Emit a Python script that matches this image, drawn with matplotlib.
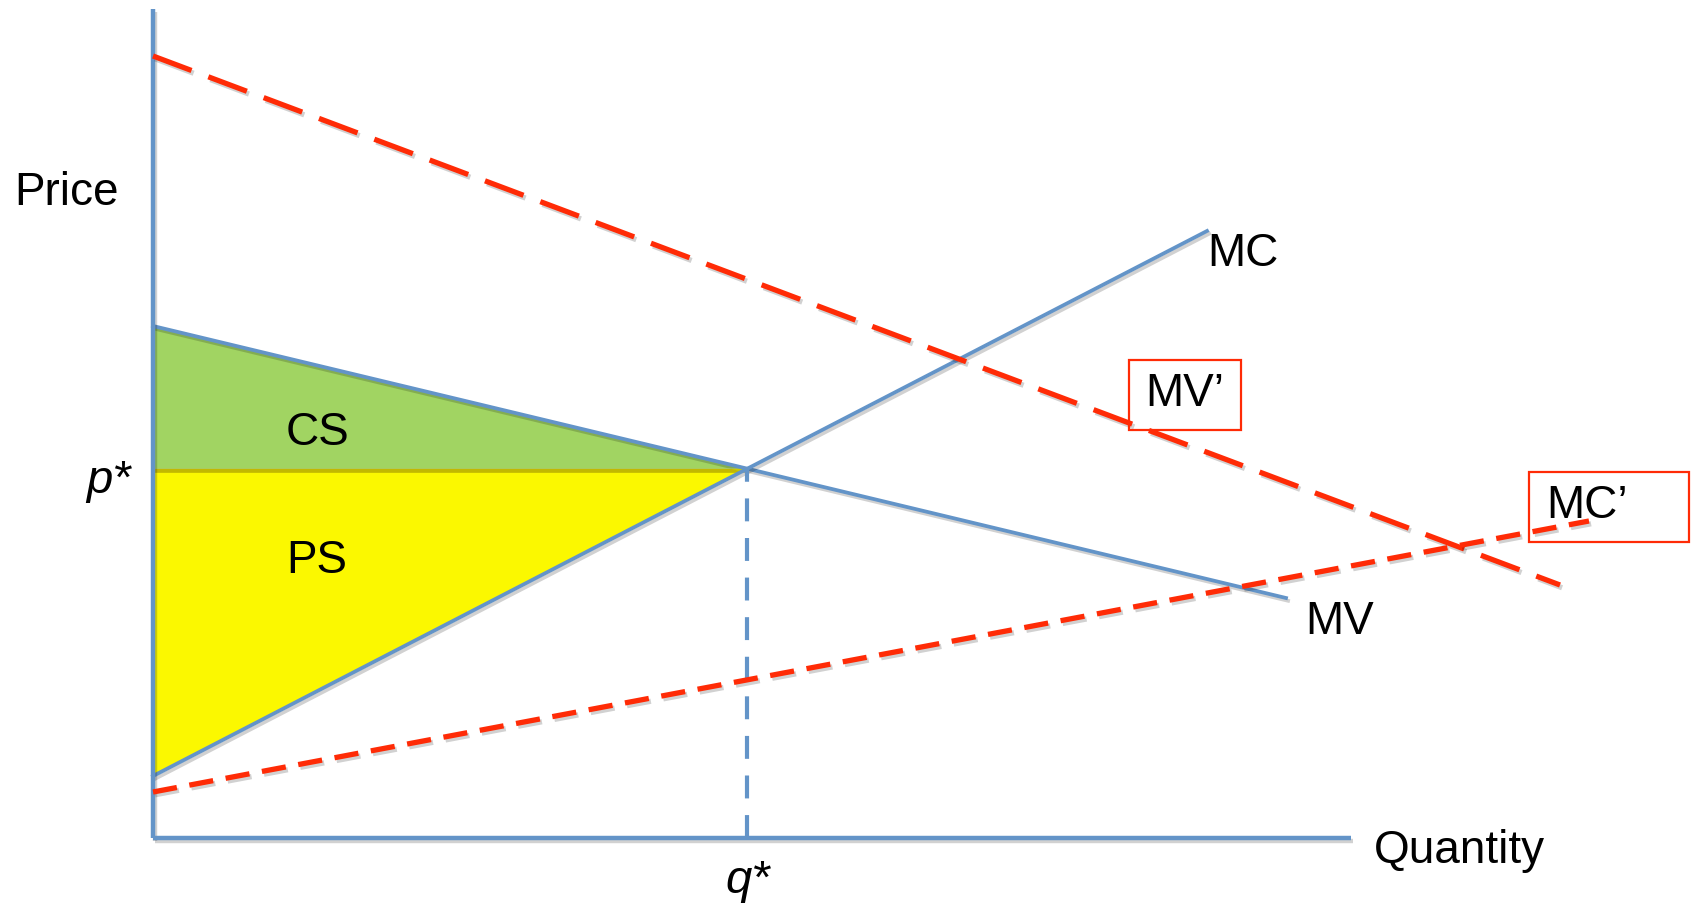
import numpy as np
import matplotlib
matplotlib.use("Agg")
import matplotlib.pyplot as plt
import matplotlib.patheffects as pe
from matplotlib.patches import Polygon, Rectangle

plt.rcParams['font.family'] = ['Liberation Sans', 'DejaVu Sans']

# ---- curve end points (quantity, price) ----
mv_q = [0.0, 11.33]
mv_p = [5.12, 2.40]
mc_q = [0.0, 10.54]
mc_p = [0.62, 6.07]
mv2_q = [0.0, 14.07]
mv2_p = [7.82, 2.53]
mc2_q = [0.0, 14.36]
mc2_p = [0.46, 3.17]

q_axis_max = 11.98
p_axis_max = 8.29

BLUE = '#6394C8'
RED = '#FF2B06'
GREEN = '#A1D462'
YELLOW = '#FBF800'

# equilibrium where MV meets MC
mv_slope = (mv_p[1] - mv_p[0]) / (mv_q[1] - mv_q[0])
mc_slope = (mc_p[1] - mc_p[0]) / (mc_q[1] - mc_q[0])
q_star = (mv_p[0] - mc_p[0]) / (mc_slope - mv_slope)
p_star = mv_p[0] + mv_slope * q_star

fig = plt.figure(figsize=(16.95, 9.08), dpi=100)
ax = fig.add_axes([0, 0, 1, 1])
ax.set_xlim(-1.53, 15.42)
ax.set_ylim(-0.70, 8.38)
ax.axis('off')

shadow = [pe.SimpleLineShadow(offset=(1.5, -2), alpha=0.18, shadow_color='k'), pe.Normal()]

# surplus areas
cs = Polygon([(0, mv_p[0]), (q_star, p_star), (0, p_star)], closed=True,
             facecolor=GREEN, edgecolor='none', zorder=2,
             path_effects=[pe.SimplePatchShadow(offset=(0, -3), alpha=0.5, shadow_rgbFace='#8a7a00'), pe.Normal()])
ps = Polygon([(0, p_star), (q_star, p_star), (0, mc_p[0])], closed=True,
             facecolor=YELLOW, edgecolor='none', zorder=1)
ax.add_patch(ps)
ax.add_patch(cs)

# axes
ax.plot([0, 0], [0, p_axis_max], color=BLUE, lw=3.2, solid_capstyle='butt', zorder=5, path_effects=shadow)
ax.plot([0, q_axis_max], [0, 0], color=BLUE, lw=3.2, solid_capstyle='butt', zorder=5, path_effects=shadow)

# original curves
ax.plot(mv_q, mv_p, color=BLUE, lw=2.7, zorder=4, path_effects=shadow)
ax.plot(mc_q, mc_p, color=BLUE, lw=2.7, zorder=4, path_effects=shadow)
ax.plot([q_star, q_star], [0, p_star], color=BLUE, lw=3.0, dashes=(5.5, 4.0), zorder=4)

# shifted curves
ax.plot(mv2_q, mv2_p, color=RED, lw=3.8, dashes=(7.8, 3.4), zorder=6, path_effects=shadow)
ax.plot(mc2_q, mc2_p, color=RED, lw=3.8, dashes=(4.6, 2.4), zorder=6, path_effects=shadow)

# labels
fs = 33
ax.text(-0.86, 6.45, 'Price', fontsize=fs, ha='center', va='center')
ax.text(-0.45, p_star - 0.12, 'p*', fontsize=fs + 1, style='italic', ha='center', va='center')
ax.text(q_star, -0.43, 'q*', fontsize=fs + 1, style='italic', ha='center', va='center')
ax.text(13.06, -0.13, 'Quantity', fontsize=fs, ha='center', va='center')
ax.text(1.64, 4.05, 'CS', fontsize=fs, ha='center', va='center', zorder=7)
ax.text(1.64, 2.77, 'PS', fontsize=fs, ha='center', va='center', zorder=7)
ax.text(10.90, 5.84, 'MC', fontsize=fs, ha='center', va='center')
ax.text(11.87, 2.16, 'MV', fontsize=fs, ha='center', va='center')

# boxed labels for the shifted curves
ax.add_patch(Rectangle((9.76, 4.08), 1.12, 0.70, facecolor='none', edgecolor=RED, lw=1.6, zorder=8))
ax.text(10.32, 4.44, 'MV\u2019', fontsize=fs, ha='center', va='center', zorder=8)
ax.add_patch(Rectangle((13.76, 2.96), 1.60, 0.70, facecolor='none', edgecolor=RED, lw=1.6, zorder=8))
ax.text(14.34, 3.32, 'MC\u2019', fontsize=fs, ha='center', va='center', zorder=8)

fig.savefig('out.png', dpi=100)
